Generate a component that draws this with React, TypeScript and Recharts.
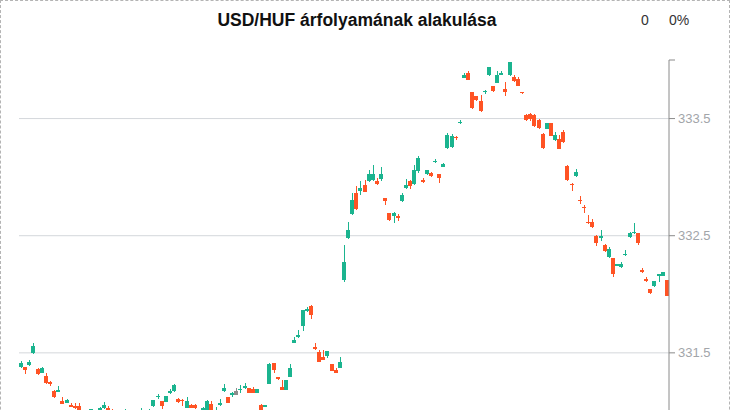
import { ComposedChart, Bar, XAxis, YAxis, CartesianGrid } from "recharts"

// USD/HUF gyertyák (időrendben)
const OPEN = [
  331.38, 331.38, 331.4, 331.5, 331.36, 331.33, 331.3, 331.25, 331.175, 331.17,
  331.085, 331.075, 331.055, 331.047, 331.047, 330.98, 330.93, 330.98, 331.012, 331.015,
  331.03, 331.032, 330.99, 330.95, 330.92, 330.94, 330.97, 330.9, 330.94, 330.92,
  330.95, 330.96, 331.047, 331.12, 331.09, 331.084, 331.156, 331.175, 331.107, 331.1,
  331.033, 331.056, 331.056, 330.98, 330.98, 330.95, 331.067, 330.97, 331.056, 331.175,
  331.124, 331.141, 331.16, 331.19, 331.199, 331.2, 331.195, 331.158, 331.056, 331.038,
  331.233, 331.415, 331.29, 331.209, 331.186, 331.298, 331.588, 331.639, 331.725, 331.859,
  331.902, 331.551, 331.509, 331.466, 331.477, 331.403, 331.355, 331.374, 332.126, 332.477,
  332.685, 332.868, 332.885, 332.933, 332.964, 332.976, 332.968, 332.981, 332.822, 332.694,
  332.665, 332.671, 332.793, 332.904, 332.97, 332.938, 333.05, 332.979, 333.024, 333.036,
  333.126, 333.03, 333.085, 333.246, 333.255, 333.34, 333.468, 333.85, 333.885, 333.725,
  333.691, 333.648, 333.725, 333.868, 333.774, 333.802, 333.876, 333.75, 333.868, 333.856,
  333.842, 333.729, 333.534, 333.54, 333.534, 333.491, 333.372, 333.409, 333.463, 333.315,
  333.326, 333.389, 333.096, 332.944, 333.007, 332.808, 332.748, 332.62, 332.62, 332.5,
  332.477, 332.423, 332.315, 332.312, 332.24, 332.229, 332.332, 332.485, 332.52, 332.523,
  332.209, 332.132, 332.044, 332.067, 332.156, 332.158, 332.124,
]
const HIGH = [
  331.43, 331.38, 331.44, 331.58, 331.37, 331.38, 331.33, 331.26, 331.18, 331.22,
  331.125, 331.11, 331.073, 331.073, 331.073, 330.99, 330.99, 331.025, 331.015, 331.04,
  331.08, 331.045, 331.02, 330.98, 330.97, 331.025, 330.99, 330.96, 330.98, 331.03,
  330.99, 331.02, 331.1, 331.15, 331.09, 331.135, 331.195, 331.238, 331.118, 331.107,
  331.124, 331.06, 331.065, 330.99, 331.04, 331.095, 331.09, 331.04, 331.107, 331.238,
  331.125, 331.167, 331.203, 331.226, 331.246, 331.2, 331.205, 331.195, 331.06, 331.058,
  331.414, 331.415, 331.295, 331.272, 331.27, 331.403, 331.637, 331.697, 331.87, 331.893,
  331.905, 331.58, 331.523, 331.523, 331.52, 331.405, 331.372, 331.466, 332.423, 332.62,
  332.862, 332.927, 332.97, 332.976, 333.064, 333.107, 332.993, 333.09, 332.825, 332.695,
  332.705, 332.682, 332.868, 332.987, 332.972, 333.107, 333.184, 332.993, 333.065, 333.042,
  333.156, 333.03, 333.117, 333.378, 333.369, 333.355, 333.491, 333.885, 333.902, 333.728,
  333.695, 333.703, 333.742, 333.94, 333.776, 333.91, 333.91, 333.81, 333.98, 333.868,
  333.859, 333.73, 333.536, 333.545, 333.543, 333.493, 333.374, 333.466, 333.466, 333.386,
  333.363, 333.403, 333.104, 332.946, 333.073, 332.839, 332.765, 332.679, 332.639, 332.502,
  332.551, 332.425, 332.4, 332.314, 332.262, 332.275, 332.38, 332.528, 332.611, 332.525,
  332.224, 332.147, 332.046, 332.115, 332.172, 332.192, 332.126,
]
const LOW = [
  331.37, 331.32, 331.39, 331.49, 331.31, 331.33, 331.23, 331.22, 331.115, 331.165,
  331.06, 331.07, 331.035, 331.02, 331.01, 330.92, 330.9, 330.97, 330.97, 331.01,
  331.02, 330.97, 330.95, 330.9, 330.9, 330.92, 330.9, 330.88, 330.89, 330.9,
  330.93, 330.94, 331.04, 331.107, 331.024, 331.08, 331.147, 331.17, 331.075, 331.047,
  331.03, 331.03, 331.025, 330.9, 330.96, 330.93, 330.94, 330.95, 331.05, 331.17,
  331.075, 331.124, 331.144, 331.158, 331.19, 331.155, 331.155, 331.155, 330.995, 331.036,
  331.23, 331.332, 331.272, 331.18, 331.185, 331.295, 331.58, 331.631, 331.688, 331.85,
  331.785, 331.526, 331.418, 331.435, 331.455, 331.345, 331.33, 331.37, 332.101, 332.47,
  332.68, 332.72, 332.848, 332.87, 332.96, 332.97, 332.935, 332.964, 332.765, 332.628,
  332.605, 332.626, 332.79, 332.9, 332.896, 332.93, 333.032, 332.947, 333.02, 333.005,
  333.118, 332.947, 333.083, 333.24, 333.25, 333.315, 333.451, 333.848, 333.83, 333.585,
  333.65, 333.554, 333.708, 333.865, 333.73, 333.8, 333.873, 333.691, 333.865, 333.815,
  333.78, 333.71, 333.483, 333.477, 333.43, 333.415, 333.244, 333.407, 333.347, 333.312,
  333.236, 333.295, 332.97, 332.879, 333.005, 332.768, 332.69, 332.603, 332.568, 332.409,
  332.451, 332.364, 332.313, 332.15, 332.238, 332.227, 332.323, 332.483, 332.518, 332.423,
  332.181, 332.104, 332.005, 332.065, 332.107, 332.156, 331.985,
]
const CLOSE = [
  331.41, 331.35, 331.42, 331.56, 331.32, 331.37, 331.24, 331.235, 331.12, 331.185,
  331.067, 331.098, 331.04, 331.03, 331.015, 330.95, 330.97, 331.02, 330.98, 331.03,
  331.056, 330.99, 330.96, 330.93, 330.95, 330.98, 330.92, 330.94, 330.91, 330.97,
  330.98, 330.99, 331.098, 331.13, 331.047, 331.132, 331.175, 331.226, 331.084, 331.095,
  331.09, 331.033, 331.033, 330.92, 331.032, 331.09, 330.96, 330.99, 331.075, 331.203,
  331.075, 331.158, 331.16, 331.195, 331.218, 331.16, 331.158, 331.192, 331.004, 331.056,
  331.403, 331.352, 331.28, 331.181, 331.269, 331.372, 331.611, 331.656, 331.868, 331.876,
  331.822, 331.537, 331.426, 331.438, 331.517, 331.346, 331.332, 331.426, 332.278, 332.551,
  332.808, 332.725, 332.904, 332.87, 333.027, 333.027, 332.938, 333.027, 332.793, 332.637,
  332.694, 332.648, 332.848, 332.936, 332.927, 333.064, 333.167, 332.962, 333.064, 333.013,
  333.138, 332.99, 333.115, 333.363, 333.352, 333.335, 333.472, 333.868, 333.833, 333.588,
  333.656, 333.568, 333.739, 333.936, 333.733, 333.876, 333.893, 333.725, 333.979, 333.819,
  333.782, 333.716, 333.485, 333.497, 333.434, 333.417, 333.246, 333.463, 333.349, 333.363,
  333.238, 333.297, 332.973, 332.93, 333.047, 332.793, 332.733, 332.605, 332.577, 332.434,
  332.494, 332.366, 332.389, 332.175, 332.255, 332.261, 332.346, 332.526, 332.532, 332.44,
  332.192, 332.115, 332.007, 332.113, 332.169, 332.19, 331.987,
]

const Y_TICKS = [330.5, 331.5, 332.5, 333.5, 334]
const GRID_VALUES = [330.5, 331.5, 332.5, 333.5]
const TITLE = "USD/HUF árfolyamának alakulása"
const CHANGE = "0"
const CHANGE_PCT = "0%"

const UP = "#1bb48f"
const DOWN = "#ff5324"
const FLAT = "#8c8c8c"

const data = OPEN.map((open, i) => ({
  i,
  open,
  high: HIGH[i],
  low: LOW[i],
  close: CLOSE[i],
}))

// egy gyertya: kanóc + test, a Bar [low, high] tartományából skálázva
function Candle(props: any) {
  const { x, y, width, height, payload } = props
  if (!payload) return null
  const { open, close, high, low } = payload
  const top = Math.min(y, y + height)
  const h = Math.abs(height)
  const k = high > low ? h / (high - low) : 0
  const py = (v: number) => top + (high - v) * k
  const color = close > open ? UP : close < open ? DOWN : FLAT
  const bx = Math.round(x + width / 2 - 2)
  let bTop = Math.round(py(Math.max(open, close)))
  let bBot = Math.round(py(Math.min(open, close)))
  if (open === close) {
    bTop -= 2
    bBot += 2
  }
  if (bBot - bTop < 1) bBot = bTop + 1
  const wTop = Math.round(top)
  const wBot = Math.max(Math.round(top + h), wTop + 1)
  return (
    <g>
      <rect x={bx + 2} y={wTop} width={1} height={wBot - wTop} fill={color} />
      <rect x={bx} y={bTop} width={4} height={bBot - bTop} fill={color} />
    </g>
  )
}

function YTick(props: any) {
  const { x, y, payload } = props
  if (payload.value === 334) return <g />
  return (
    <text x={x} y={y} dy="0.355em" fill="#a2a5a9" fontSize={13} textAnchor="start">
      {payload.value.toFixed(1)}
    </text>
  )
}

export default function App() {
  return (
    <div
      style={{
        position: "relative",
        width: 730,
        height: 410,
        overflow: "hidden",
        fontFamily: "'Liberation Sans', Arial, sans-serif",
        background: "#fff",
      }}
    >
      <style>{`body{margin:0}`}</style>
      <ComposedChart
        width={730}
        height={470}
        data={data}
        margin={{ top: 60, right: 0, bottom: 0, left: 19 }}
        barCategoryGap={0}
      >
        <CartesianGrid vertical={false} stroke="#d4d7db" horizontalValues={GRID_VALUES} />
        <XAxis dataKey="i" type="category" hide />
        <YAxis
          orientation="right"
          type="number"
          domain={[330.5, 334]}
          ticks={Y_TICKS}
          allowDataOverflow
          width={61}
          axisLine={{ stroke: "#8a8a8a" }}
          tickLine={{ stroke: "#8a8a8a" }}
          tickSize={6}
          tickMargin={3}
          tick={<YTick />}
        />
        <Bar
          dataKey={(d: any) => [d.low, d.high]}
          shape={<Candle />}
          isAnimationActive={false}
        />
      </ComposedChart>
      <div
        style={{
          position: "absolute",
          left: 0,
          top: 10,
          width: 714,
          textAlign: "center",
          fontSize: 17.5,
          fontWeight: "bold",
          color: "#111",
        }}
      >
        {TITLE}
      </div>
      <div style={{ position: "absolute", left: 641, top: 12, fontSize: 14, color: "#333" }}>
        {CHANGE}
      </div>
      <div style={{ position: "absolute", left: 669, top: 12, fontSize: 14, color: "#333" }}>
        {CHANGE_PCT}
      </div>
      <div
        style={{
          position: "absolute",
          left: 0,
          top: 0,
          width: 730,
          height: 520,
          boxSizing: "border-box",
          border: "1px dashed #b4b4b4",
          pointerEvents: "none",
        }}
      />
    </div>
  )
}
